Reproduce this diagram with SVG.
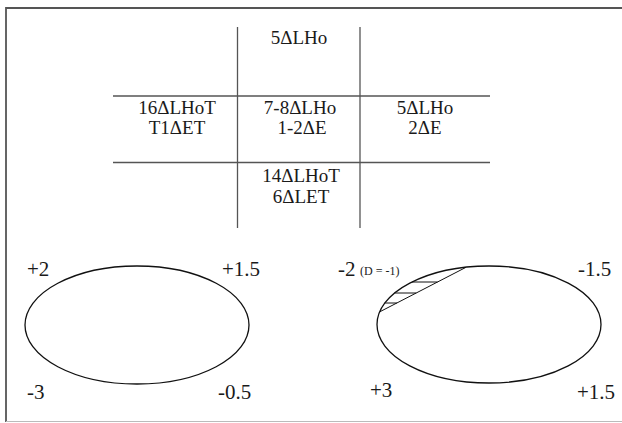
<svg xmlns="http://www.w3.org/2000/svg" width="622" height="423" viewBox="0 0 622 423">
<style>
text{font-family:"Liberation Serif","Times New Roman",serif;fill:#1a1a1a}
.t{font-size:19px;text-anchor:middle}
.l{font-size:21px}
.s{font-size:12px}
.g{stroke:#555;stroke-width:1.3;fill:none}
.e{stroke:#111;stroke-width:1.3;fill:none}
.h{stroke:#111;stroke-width:1;fill:none}
</style>
<rect width="622" height="423" fill="#fff"/>
<g id="frame" fill="none">
<path d="M6,422 V8 H622" stroke="#555" stroke-width="1.8"/>
<line x1="6" y1="421.5" x2="622" y2="421.5" stroke="#bbb" stroke-width="1.2"/>
</g>
<g id="grid">
<line class="g" x1="237.5" y1="27" x2="237.5" y2="228"/>
<line class="g" x1="360" y1="27" x2="360" y2="228"/>
<line class="g" x1="113" y1="96" x2="490" y2="96"/>
<line class="g" x1="113" y1="162.5" x2="490" y2="162.5"/>
</g>
<g id="cell-top"><text class="t" x="299" y="44">5ΔLHo</text></g>
<g id="cell-left"><text class="t" x="177" y="114">16ΔLHoT</text><text class="t" x="177" y="134">T1ΔET</text></g>
<g id="cell-center"><text class="t" x="300" y="114">7-8ΔLHo</text><text class="t" x="302" y="134">1-2ΔE</text></g>
<g id="cell-right"><text class="t" x="425" y="114">5ΔLHo</text><text class="t" x="425" y="134">2ΔE</text></g>
<g id="cell-bottom"><text class="t" x="301" y="182">14ΔLHoT</text><text class="t" x="301" y="203">6ΔLET</text></g>
<g id="ellipse-left">
<ellipse class="e" cx="137" cy="325" rx="112" ry="59"/>
<text class="l" x="27" y="276">+2</text>
<text class="l" x="222" y="276">+1.5</text>
<text class="l" x="27" y="399">-3</text>
<text class="l" x="218" y="399">-0.5</text>
</g>
<g id="ellipse-right">
<ellipse class="e" cx="489" cy="324.5" rx="112" ry="58.5"/>
<line class="h" x1="466" y1="267.3" x2="380" y2="311.7"/>
<line class="h" x1="412" y1="282" x2="437.5" y2="282"/>
<line class="h" x1="394.6" y1="293" x2="416.2" y2="293"/>
<line class="h" x1="384.8" y1="303" x2="396.9" y2="303"/>
<text class="l" x="338" y="276">-2</text>
<text class="s" x="360" y="275">(D = -1)</text>
<text class="l" x="578" y="276">-1.5</text>
<text class="l" x="370" y="397">+3</text>
<text class="l" x="577" y="399">+1.5</text>
</g>
</svg>
